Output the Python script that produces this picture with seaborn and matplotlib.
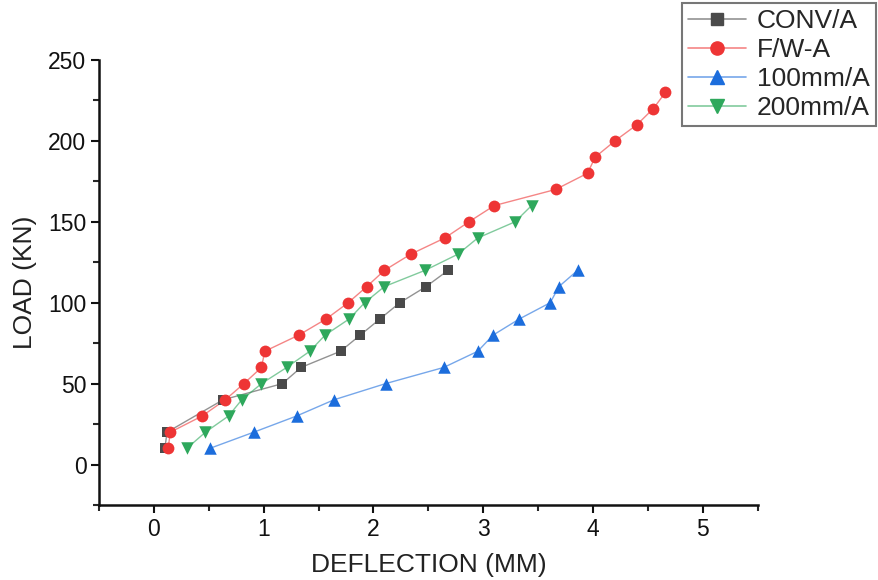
import matplotlib
matplotlib.use('Agg')
import matplotlib.pyplot as plt
from matplotlib.ticker import MultipleLocator
import pandas as pd
import seaborn as sns

# Valeurs
series = ['CONV/A', 'F/W-A', '100mm/A', '200mm/A']

conv_x = [0.10, 0.12, 0.63, 1.17, 1.34, 1.70, 1.88, 2.06, 2.24, 2.48, 2.68]
conv_y = [10, 20, 40, 50, 60, 70, 80, 90, 100, 110, 120]

fw_x = [0.13, 0.15, 0.44, 0.65, 0.82, 0.98, 1.01, 1.32, 1.57, 1.77, 1.94, 2.10,
        2.34, 2.65, 2.87, 3.10, 3.66, 3.95, 4.02, 4.20, 4.40, 4.55, 4.66]
fw_y = [10, 20, 30, 40, 50, 60, 70, 80, 90, 100, 110, 120,
        130, 140, 150, 160, 170, 180, 190, 200, 210, 220, 230]

mm100_x = [0.51, 0.91, 1.30, 1.64, 2.11, 2.64, 2.95, 3.09, 3.33, 3.61, 3.69, 3.86]
mm100_y = [10, 20, 30, 40, 50, 60, 70, 80, 90, 100, 110, 120]

mm200_x = [0.30, 0.47, 0.68, 0.80, 0.98, 1.21, 1.42, 1.56, 1.78, 1.92, 2.10,
           2.47, 2.77, 2.95, 3.29, 3.44]
mm200_y = [10, 20, 30, 40, 50, 60, 70, 80, 90, 100, 110, 120, 130, 140, 150, 160]

xs = [conv_x, fw_x, mm100_x, mm200_x]
ys = [conv_y, fw_y, mm100_y, mm200_y]
colors = ['#4a4a4a', '#ee3535', '#1c6ddc', '#2ea85c']
markers = ['s', 'o', '^', 'v']
msizes = [7.5, 8.5, 9, 9]

sns.set_style('ticks')
plt.rcParams['font.family'] = ['Liberation Sans', 'DejaVu Sans']

fig = plt.figure(figsize=(8.79, 5.80), dpi=100)
ax = fig.add_axes([0.1126, 0.1293, 0.862 - 0.1126, 0.8966 - 0.1293])

handles = []
for name, x, y, c, m, ms in zip(series, xs, ys, colors, markers, msizes):
    df = pd.DataFrame({'x': x, 'y': y})
    sns.lineplot(data=df, x='x', y='y', ax=ax, sort=False, estimator=None,
                 color=c, lw=1.0, alpha=0.6)
    sns.scatterplot(data=df, x='x', y='y', ax=ax, color=c, marker=m,
                    s=ms ** 2, edgecolor=c, linewidth=0, zorder=3)
    h, = ax.plot([], [], color=c, lw=1.2, alpha=0.6)
    hm, = ax.plot([], [], color=c, marker=m, ms=ms + 1, ls='none')
    handles.append((h, hm))

ax.set_xlim(-0.5, 5.5)
ax.set_ylim(-25, 250)
ax.xaxis.set_major_locator(MultipleLocator(1))
ax.xaxis.set_minor_locator(MultipleLocator(0.5))
ax.yaxis.set_major_locator(MultipleLocator(50))
ax.yaxis.set_minor_locator(MultipleLocator(25))
ax.tick_params(which='major', length=6, width=1.5, labelsize=16.5, colors='#111111', pad=3)
ax.tick_params(which='minor', length=4, width=1.5)
for s in ['left', 'bottom']:
    ax.spines[s].set_linewidth(1.8)
    ax.spines[s].set_color('#111111')
sns.despine(ax=ax)

ax.set_xlabel('DEFLECTION (MM)', fontsize=19, color='#222222', labelpad=9)
ax.set_ylabel('LOAD (KN)', fontsize=19, color='#222222', labelpad=8)

leg = fig.legend(handles, series, loc='upper right', bbox_to_anchor=(0.997, 0.995),
                 fontsize=19, frameon=True, fancybox=False, handlelength=2.2,
                 borderpad=0.25, labelspacing=0.18, handletextpad=0.4,
                 borderaxespad=0)
leg.get_frame().set_edgecolor('#555555')
leg.get_frame().set_linewidth(1.5)

plt.savefig('out.png', dpi=100)
